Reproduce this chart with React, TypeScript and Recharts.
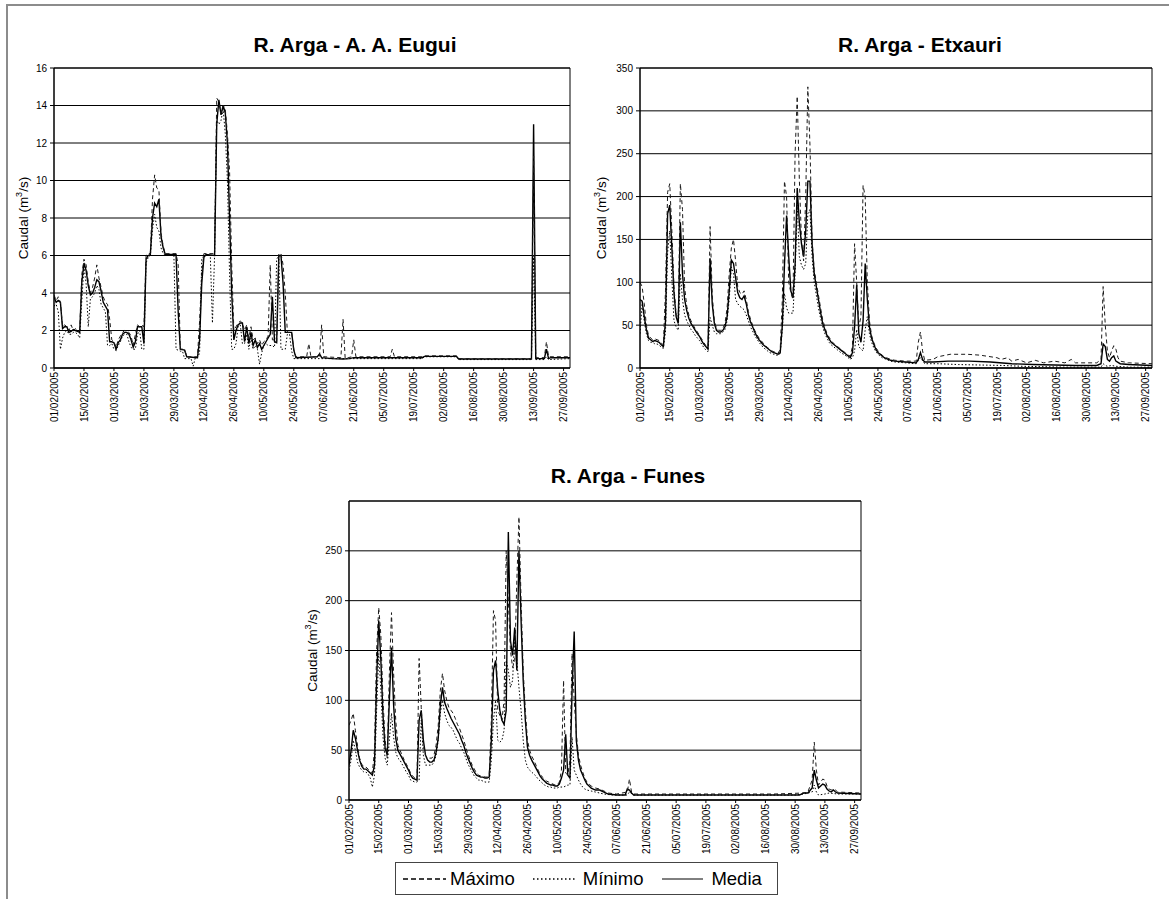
import React from 'react';
import { LineChart, Line, XAxis, YAxis, CartesianGrid, ReferenceArea } from 'recharts';

type Pt = [number, number];

// x positions: day index counted from 01/02/2005
const tickDays = [0, 14, 28, 42, 56, 70, 84, 98, 112, 126, 140, 154, 168, 182, 196, 210, 224, 238];
const tickLabels = ['01/02/2005', '15/02/2005', '01/03/2005', '15/03/2005', '29/03/2005', '12/04/2005', '26/04/2005', '10/05/2005', '24/05/2005', '07/06/2005', '21/06/2005', '05/07/2005', '19/07/2005', '02/08/2005', '16/08/2005', '30/08/2005', '13/09/2005', '27/09/2005'];
const lastDay = 241;

const seriesNames = ['Máximo', 'Mínimo', 'Media'];
const chartTitles = ['R. Arga - A. A. Eugui', 'R. Arga - Etxauri', 'R. Arga - Funes'];

// ---------- R. Arga - A. A. Eugui ----------
const euguiTicks = [0, 2, 4, 6, 8, 10, 12, 14, 16];
const euguiMax: Pt[] = [[0,3.9],[1,3.6],[2,3.8],[3,3.5],[4,2.2],[5,2.3],[6,2.2],[7,2.0],[8,2.3],[9,2.0],[10,2.1],[11,2.0],[12,2.0],[13,5.0],[14,5.8],[15,5.5],[16,4.6],[17,4.0],[18,4.3],[19,4.8],[20,5.5],[21,4.8],[22,4.3],[23,3.8],[24,3.5],[25,3.4],[26,2.6],[27,1.5],[28,1.4],[29,1.1],[30,1.5],[31,1.7],[32,1.9],[33,2.0],[34,1.95],[35,1.9],[36,1.7],[37,1.2],[38,1.8],[39,2.3],[40,2.2],[41,2.3],[42,2.2],[43,6.0],[44,6.1],[45,6.1],[46,9.0],[47,10.3],[48,9.6],[49,9.5],[50,7.2],[51,6.5],[52,6.1],[57,6.1],[58,5.5],[59,1.0],[61,1.0],[62,0.6],[67,0.6],[68,2.5],[69,5.0],[70,6.1],[75,6.1],[76,14.4],[77,14.2],[78,13.6],[79,14.0],[80,13.8],[81,12.5],[82,10.5],[83,5.5],[84,2.0],[85,2.2],[86,2.4],[87,2.5],[88,2.4],[89,2.0],[90,2.3],[91,1.6],[92,2.2],[93,1.5],[94,1.6],[95,1.3],[96,1.5],[97,1.2],[98,1.4],[99,1.5],[100,1.7],[101,5.5],[102,1.5],[103,1.5],[104,1.4],[105,6.1],[106,6.1],[107,5.5],[108,4.0],[109,1.9],[111,1.9],[112,1.0],[113,0.6],[118,0.6],[119,1.3],[120,0.6],[124,0.6],[125,2.3],[126,0.6],[134,0.55],[135,2.6],[136,0.5],[139,0.6],[140,1.5],[141,0.6],[157,0.6],[158,1.0],[159,0.6],[172,0.6],[173,0.65],[188,0.65],[189,0.5],[223,0.5],[224,11.3],[225,0.55],[229,0.55],[230,1.4],[231,0.6],[241,0.6]];
const euguiMin: Pt[] = [[0,3.3],[1,3.4],[2,3.0],[3,1.0],[4,1.6],[5,1.9],[6,2.0],[7,1.8],[8,1.8],[9,1.9],[10,1.9],[11,1.8],[12,1.6],[13,3.6],[14,5.4],[15,4.5],[16,2.2],[17,3.7],[18,3.8],[19,4.0],[20,4.4],[21,4.2],[22,3.4],[23,3.2],[24,3.0],[25,1.2],[26,1.2],[27,1.3],[28,1.0],[29,0.95],[30,1.2],[31,1.4],[32,1.7],[33,1.8],[34,1.8],[35,1.4],[36,1.1],[37,1.0],[38,1.0],[39,1.8],[40,2.0],[41,1.0],[42,1.0],[43,5.6],[44,5.9],[45,6.0],[46,7.4],[47,8.2],[48,7.5],[49,7.3],[50,6.4],[51,6.1],[52,6.0],[56,6.0],[57,1.0],[59,0.9],[60,0.9],[61,0.5],[64,0.5],[65,0.1],[66,0.55],[67,0.55],[68,0.8],[69,5.8],[70,6.0],[73,6.0],[74,2.4],[75,6.0],[76,13.2],[77,13.0],[78,13.2],[79,13.8],[80,12.5],[81,10.0],[82,5.0],[83,1.0],[84,1.0],[85,1.3],[86,2.2],[87,2.3],[88,1.3],[89,1.3],[90,1.8],[91,1.0],[92,1.6],[93,1.0],[94,1.2],[95,1.0],[96,0.2],[97,0.8],[98,1.2],[99,1.3],[100,1.2],[102,1.2],[103,1.1],[104,5.8],[105,6.0],[106,1.0],[108,1.0],[109,1.8],[110,1.8],[111,0.9],[112,0.5],[172,0.5],[173,0.6],[188,0.6],[189,0.45],[223,0.45],[224,6.0],[225,0.45],[229,0.45],[230,0.6],[231,0.45],[241,0.5]];
const euguiMedia: Pt[] = [[0,3.8],[1,3.5],[2,3.6],[3,3.5],[4,2.1],[5,2.2],[6,2.2],[7,1.9],[8,1.95],[9,2.05],[10,2.0],[11,1.95],[12,1.9],[13,4.6],[14,5.6],[15,5.2],[16,4.4],[17,3.9],[18,4.0],[19,4.3],[20,4.7],[21,4.6],[22,4.1],[23,3.5],[24,3.3],[25,3.1],[26,1.4],[27,1.4],[28,1.35],[29,1.0],[30,1.35],[31,1.5],[32,1.8],[33,1.9],[34,1.9],[35,1.8],[36,1.5],[37,1.1],[38,1.4],[39,2.2],[41,2.2],[42,1.3],[43,5.8],[44,6.0],[45,6.05],[46,8.0],[47,8.8],[48,8.6],[49,9.0],[50,7.0],[51,6.4],[52,6.05],[57,6.05],[58,3.0],[59,1.0],[61,0.95],[62,0.6],[67,0.55],[68,1.5],[69,4.5],[70,5.9],[71,6.05],[75,6.0],[76,13.0],[77,14.3],[78,13.5],[79,14.0],[80,13.6],[81,12.0],[82,8.0],[83,4.0],[84,1.5],[85,2.0],[86,2.3],[87,2.4],[88,2.4],[89,1.4],[90,2.2],[91,1.3],[92,1.9],[93,1.2],[94,1.5],[95,1.1],[96,1.3],[97,1.0],[98,1.2],[99,1.4],[100,1.6],[101,1.8],[102,3.8],[103,1.4],[104,1.35],[105,6.0],[106,6.0],[107,4.5],[108,1.9],[111,1.9],[112,0.95],[113,0.55],[123,0.6],[124,0.75],[125,0.55],[130,0.5],[135,0.48],[138,0.5],[140,0.55],[172,0.55],[173,0.62],[188,0.62],[189,0.48],[223,0.48],[224,13.0],[225,0.5],[229,0.5],[230,1.0],[231,0.5],[232,0.55],[241,0.55]];

// ---------- R. Arga - Etxauri ----------
const etxTicks = [0, 50, 100, 150, 200, 250, 300, 350];
const etxMax: Pt[] = [[0,100],[1,95],[2,75],[3,50],[4,38],[5,35],[6,33],[7,34],[8,33],[9,32],[10,29],[11,27],[12,90],[13,205],[14,215],[15,160],[16,95],[17,62],[18,60],[19,215],[20,185],[21,95],[22,72],[23,62],[24,55],[25,50],[26,46],[27,42],[28,38],[29,34],[30,30],[31,26],[32,24],[33,165],[34,85],[35,55],[36,46],[37,44],[38,44],[39,46],[40,52],[41,70],[42,110],[43,140],[44,150],[45,125],[46,95],[47,88],[48,86],[49,90],[50,80],[51,66],[52,57],[53,50],[54,44],[55,39],[56,35],[57,32],[58,29],[59,26],[60,24],[61,22],[62,20],[63,19],[64,18],[65,17],[66,22],[67,80],[68,218],[69,200],[70,100],[71,88],[72,80],[73,250],[74,317],[75,220],[76,150],[77,125],[78,200],[79,328],[80,260],[81,150],[82,115],[83,100],[84,85],[85,70],[86,56],[87,48],[88,40],[89,36],[90,32],[91,29],[92,27],[93,25],[94,23],[95,21],[96,19],[97,17],[98,15],[99,14],[100,25],[101,145],[102,100],[103,48],[104,60],[105,213],[106,200],[107,100],[108,55],[109,38],[110,30],[111,24],[112,20],[113,17],[114,15],[115,13],[116,12],[118,10],[120,9],[125,8],[130,8],[131,30],[132,42],[133,20],[134,9],[138,10],[140,13],[146,16],[154,16],[160,15],[168,12],[170,10],[173,12],[175,8],[178,10],[182,6],[186,9],[190,6],[195,8],[200,6],[203,10],[205,6],[215,6],[217,10],[218,95],[219,50],[220,20],[221,12],[222,20],[223,26],[224,22],[225,12],[226,8],[230,6],[241,5]];
const etxMin: Pt[] = [[0,40],[1,75],[2,55],[3,40],[4,32],[5,30],[6,30],[7,28],[8,28],[9,27],[10,24],[11,23],[12,42],[13,135],[14,160],[15,104],[16,55],[17,48],[18,44],[19,110],[20,80],[21,62],[22,55],[23,50],[24,45],[25,42],[26,38],[27,35],[28,32],[29,28],[30,24],[31,21],[32,19],[33,59],[34,50],[35,42],[36,40],[38,40],[39,42],[40,45],[41,55],[42,80],[43,118],[44,110],[45,80],[46,75],[47,72],[48,70],[49,68],[50,62],[51,55],[52,48],[53,43],[54,38],[55,34],[56,30],[57,27],[58,24],[59,22],[60,20],[61,18],[62,17],[63,16],[64,15],[65,15],[66,17],[67,45],[68,87],[69,70],[70,64],[72,64],[73,110],[74,190],[75,130],[76,120],[77,115],[78,122],[79,180],[80,185],[81,130],[82,100],[83,85],[84,70],[85,58],[86,48],[87,40],[88,35],[89,30],[90,27],[91,25],[92,23],[93,21],[94,19],[95,17],[96,16],[97,14],[98,12],[99,10],[100,12],[101,20],[102,45],[103,25],[104,22],[105,20],[106,45],[107,60],[108,40],[109,30],[110,24],[111,19],[112,16],[113,14],[114,12],[115,11],[116,10],[118,8],[120,7],[125,6],[130,5],[132,12],[134,5],[140,5],[150,4],[160,3.5],[170,3],[180,2],[190,1.5],[200,1],[217,1],[218,5],[219,3],[220,2],[222,3],[224,2],[230,1],[241,1]];
const etxMedia: Pt[] = [[0,80],[1,78],[2,60],[3,45],[4,35],[5,33],[6,31],[7,32],[8,31],[9,30],[10,27],[11,25],[12,55],[13,180],[14,190],[15,140],[16,87],[17,60],[18,52],[19,170],[20,110],[21,80],[22,67],[23,58],[24,52],[25,48],[26,44],[27,40],[28,37],[29,32],[30,28],[31,25],[32,22],[33,128],[34,75],[35,52],[36,44],[37,42],[38,42],[39,44],[40,48],[41,60],[42,90],[43,126],[44,122],[45,105],[46,88],[47,82],[48,80],[49,84],[50,75],[51,62],[52,54],[53,48],[54,42],[55,37],[56,33],[57,30],[58,27],[59,25],[60,23],[61,21],[62,19],[63,18],[64,17],[65,16],[66,18],[67,50],[68,120],[69,178],[70,130],[71,90],[72,82],[73,120],[74,210],[75,170],[76,145],[77,130],[78,160],[79,218],[80,218],[81,145],[82,110],[83,95],[84,80],[85,65],[86,52],[87,45],[88,38],[89,34],[90,30],[91,28],[92,26],[93,24],[94,22],[95,20],[96,18],[97,16],[98,14],[99,12],[100,18],[101,48],[102,97],[103,40],[104,30],[105,55],[106,122],[107,80],[108,48],[109,35],[110,28],[111,22],[112,18],[113,16],[114,14],[115,12],[116,11],[118,9],[120,8],[125,7],[130,6],[131,10],[132,18],[133,10],[134,7],[138,7],[145,8],[155,8],[165,7],[175,5],[185,4],[195,3.5],[205,3],[215,3],[217,5],[218,28],[219,25],[220,10],[221,8],[222,12],[223,14],[224,8],[226,5],[230,4],[241,3]];

// ---------- R. Arga - Funes ----------
const funesTicks = [0, 50, 100, 150, 200, 250];
const funesMax: Pt[] = [[0,75],[1,80],[2,87],[3,70],[4,55],[5,42],[6,36],[7,33],[8,33],[9,31],[10,29],[11,27],[12,50],[13,150],[14,193],[15,165],[16,100],[17,60],[18,42],[19,127],[20,188],[21,127],[22,80],[23,55],[24,50],[25,45],[26,40],[27,36],[28,32],[29,27],[30,24],[31,22],[32,20],[33,142],[34,93],[35,55],[36,45],[37,42],[39,42],[40,45],[41,55],[42,75],[43,110],[44,127],[45,110],[46,100],[47,93],[48,90],[49,87],[50,82],[51,76],[52,72],[53,66],[54,60],[55,53],[56,46],[57,40],[58,35],[59,31],[60,27],[61,25],[62,24],[63,24],[64,23],[65,23],[66,25],[67,80],[68,190],[69,180],[70,90],[71,85],[72,80],[73,100],[74,250],[75,200],[76,150],[77,133],[78,140],[79,220],[80,284],[81,200],[82,130],[83,90],[84,60],[85,50],[86,44],[87,40],[88,35],[89,30],[90,26],[91,23],[92,21],[93,19],[94,18],[95,17],[96,16],[97,15],[98,15],[99,18],[100,30],[101,120],[102,27],[103,25],[104,40],[105,147],[106,100],[107,67],[108,45],[109,35],[110,28],[111,22],[112,18],[113,16],[114,14],[115,13],[116,12],[118,11],[120,9],[122,7],[126,6],[131,8],[132,21],[133,8],[134,6],[200,6],[214,7],[216,8],[218,20],[219,58],[220,30],[221,15],[222,18],[223,21],[224,20],[225,14],[226,11],[227,10],[228,11],[229,10],[230,8],[241,7]];
const funesMin: Pt[] = [[0,30],[1,40],[2,60],[3,50],[4,38],[5,33],[6,30],[7,28],[8,28],[9,26],[10,22],[11,13],[12,25],[13,90],[14,147],[15,110],[16,63],[17,42],[18,35],[19,60],[20,87],[21,63],[22,48],[23,42],[24,40],[25,36],[26,32],[27,28],[28,25],[29,20],[30,19],[31,18],[32,18],[33,20],[34,80],[35,45],[36,35],[39,35],[40,38],[41,45],[42,60],[43,87],[44,100],[45,87],[46,80],[47,75],[48,73],[49,70],[50,65],[51,60],[52,57],[53,52],[54,48],[55,42],[56,36],[57,32],[58,28],[59,24],[60,22],[61,20],[62,20],[63,19],[64,18],[66,18],[67,40],[68,80],[69,100],[70,60],[71,58],[72,60],[73,70],[74,140],[75,130],[76,113],[77,120],[78,163],[79,140],[80,113],[81,90],[82,60],[83,40],[84,33],[85,30],[86,28],[87,26],[88,24],[89,21],[90,19],[91,17],[92,15],[93,14],[94,13],[95,13],[96,12],[98,12],[99,13],[101,13],[102,14],[103,15],[104,15],[105,63],[106,30],[107,25],[108,20],[109,16],[110,13],[111,11],[112,10],[114,9],[116,8],[120,6],[124,5],[131,5],[132,8],[134,5],[210,5],[214,6],[218,8],[219,15],[220,8],[221,5],[224,6],[226,7],[230,6],[241,6]];
const funesMedia: Pt[] = [[0,35],[1,50],[2,70],[3,62],[4,50],[5,40],[6,34],[7,31],[8,31],[9,29],[10,27],[11,25],[12,35],[13,120],[14,180],[15,140],[16,85],[17,52],[18,45],[19,100],[20,153],[21,95],[22,62],[23,50],[24,46],[25,42],[26,38],[27,34],[28,30],[29,25],[30,22],[31,21],[32,20],[33,80],[34,90],[35,60],[36,45],[37,40],[38,38],[39,38],[40,40],[41,48],[42,62],[43,95],[44,113],[45,98],[46,92],[47,87],[48,82],[49,78],[50,74],[51,70],[52,66],[53,60],[54,55],[55,48],[56,42],[57,37],[58,32],[59,28],[60,25],[61,24],[62,23],[63,23],[64,22],[65,22],[66,23],[67,60],[68,130],[69,140],[70,110],[71,90],[72,80],[73,76],[74,90],[75,269],[76,160],[77,145],[78,173],[79,130],[80,250],[81,180],[82,120],[83,80],[84,53],[85,45],[86,40],[87,36],[88,32],[89,28],[90,24],[91,21],[92,19],[93,17],[94,16],[95,15],[96,15],[97,14],[98,14],[99,16],[100,22],[101,30],[102,66],[103,25],[104,22],[105,110],[106,169],[107,60],[108,40],[109,30],[110,25],[111,20],[112,16],[113,14],[114,12],[115,11],[116,10],[118,10],[120,8],[122,6],[126,5],[130,5],[131,11],[132,10],[133,7],[134,5],[212,5],[214,7],[216,7],[218,12],[219,30],[220,20],[221,12],[222,14],[223,16],[224,15],[225,11],[226,9],[227,8],[228,10],[229,8],[230,7],[241,6]];

const FONT = '"Liberation Sans", Arial, Helvetica, sans-serif';

const toRows = (pts: Pt[]) => pts.map(([d, v]) => ({ d, v }));

const XTick = (props: any) => {
  const { x, y, payload } = props;
  const idx = tickDays.indexOf(payload.value);
  return (
    <text
      transform={`translate(${x + 3.6},${y}) rotate(-90)`}
      textAnchor="end"
      fontSize={10}
      fontFamily={FONT}
      fill="#000"
    >
      {tickLabels[idx]}
    </text>
  );
};

const makeYLabel = (labelX: number) => (props: any) => {
  const vb = props.viewBox || { x: 0, y: 0, width: 0, height: 0 };
  const cy = vb.y + vb.height / 2;
  const cx = vb.x + labelX;
  return (
    <text transform={`translate(${cx},${cy}) rotate(-90)`} textAnchor="middle" fontSize={13.5} fontFamily={FONT} fill="#000">
      <tspan>Caudal (m</tspan>
      <tspan dy={-6} fontSize={9}>3</tspan>
      <tspan dy={6}>/s)</tspan>
    </text>
  );
};

type PanelProps = {
  left: number; top: number; width: number; height: number;
  plotLeft: number; plotTop: number; plotRight: number; plotBottom: number;
  yMax: number; yTicks: number[]; labelX: number;
  title: string; titleCx: number; titleCy: number;
  maxPts: Pt[]; minPts: Pt[]; mediaPts: Pt[];
};

function Panel(p: PanelProps) {
  const yAxisWidth = p.plotLeft - p.left;
  const xAxisHeight = p.top + p.height - p.plotBottom;
  return (
    <>
      <div
        style={{
          position: 'absolute', left: p.titleCx - 200, top: p.titleCy - 13, width: 400,
          textAlign: 'center', fontFamily: FONT, fontWeight: 'bold', fontSize: 21, lineHeight: '26px', color: '#000',
        }}
      >
        {p.title}
      </div>
      <div style={{ position: 'absolute', left: p.left, top: p.top }}>
        <LineChart
          width={p.width}
          height={p.height}
          margin={{ top: p.plotTop - p.top, right: p.left + p.width - p.plotRight, bottom: 0, left: 0 }}
        >
          <CartesianGrid vertical={false} stroke="#000" strokeWidth={1} />
          <XAxis
            dataKey="d"
            type="number"
            domain={[0, lastDay]}
            ticks={tickDays}
            interval={0}
            height={xAxisHeight}
            tick={<XTick />}
            tickSize={3}
            tickMargin={1}
            axisLine={{ stroke: '#000' }}
            tickLine={{ stroke: '#000' }}
            allowDataOverflow
          />
          <YAxis
            type="number"
            domain={[0, p.yMax]}
            ticks={p.yTicks}
            interval={0}
            width={yAxisWidth}
            tickSize={4}
            tickMargin={3}
            tick={{ fontSize: 10, fill: '#000', fontFamily: FONT }}
            axisLine={{ stroke: '#000' }}
            tickLine={{ stroke: '#000' }}
            label={{ content: makeYLabel(p.labelX) } as any}
            allowDataOverflow
          />
          <ReferenceArea x1={0} x2={lastDay} y1={0} y2={p.yMax} fill="none" stroke="#000" strokeWidth={1} ifOverflow="visible" />
          <Line data={toRows(p.mediaPts)} dataKey="v" name={seriesNames[2]} type="linear" stroke="#000" strokeWidth={1.4} dot={false} isAnimationActive={false} />
          <Line data={toRows(p.maxPts)} dataKey="v" name={seriesNames[0]} type="linear" stroke="#1a1a1a" strokeWidth={1} strokeDasharray="4 3" dot={false} isAnimationActive={false} />
          <Line data={toRows(p.minPts)} dataKey="v" name={seriesNames[1]} type="linear" stroke="#000" strokeWidth={1} strokeDasharray="1.5 2" dot={false} isAnimationActive={false} />
        </LineChart>
      </div>
    </>
  );
}

function LegendBox() {
  const items = [
    { name: seriesNames[0], dash: '5 3', w: 1.6, sw: 43, gap: 4, after: 18 },
    { name: seriesNames[1], dash: '1.5 2.5', w: 1.6, sw: 44, gap: 6, after: 19 },
    { name: seriesNames[2], dash: undefined as string | undefined, w: 1, sw: 41, gap: 8, after: 0 },
  ];
  return (
    <div
      style={{
        position: 'absolute', left: 395, top: 862, width: 383, height: 33, boxSizing: 'border-box',
        border: '1px solid #444', background: '#fff', display: 'flex', alignItems: 'center',
        paddingLeft: 7, fontFamily: FONT, fontSize: 18.5, color: '#000',
      }}
    >
      {items.map((it) => (
        <div key={it.name} style={{ display: 'flex', alignItems: 'center', marginRight: it.after }}>
          <svg width={it.sw} height={10} style={{ marginRight: it.gap }}>
            <line x1={0} y1={5} x2={it.sw} y2={5} stroke="#000" strokeWidth={it.w} strokeDasharray={it.dash} />
          </svg>
          <span>{it.name}</span>
        </div>
      ))}
    </div>
  );
}

export default function App() {
  return (
    <div style={{ position: 'relative', width: 1169, height: 899, overflow: 'hidden', background: '#fff' }}>
      <style>{'body{margin:0;}'}</style>
      <div style={{ position: 'absolute', left: 6, top: 4, width: 1300, height: 1100, border: '2px solid #8c8c8c' }} />
      <Panel
        left={0} top={0} width={600} height={450}
        plotLeft={54} plotTop={68} plotRight={570} plotBottom={368}
        yMax={16} yTicks={euguiTicks} labelX={28}
        title={chartTitles[0]} titleCx={355} titleCy={45}
        maxPts={euguiMax} minPts={euguiMin} mediaPts={euguiMedia}
      />
      <Panel
        left={580} top={0} width={589} height={450}
        plotLeft={640} plotTop={68} plotRight={1152} plotBottom={368}
        yMax={350} yTicks={etxTicks} labelX={26}
        title={chartTitles[1]} titleCx={920} titleCy={45}
        maxPts={etxMax} minPts={etxMin} mediaPts={etxMedia}
      />
      <Panel
        left={270} top={420} width={620} height={440}
        plotLeft={349} plotTop={501} plotRight={861} plotBottom={800}
        yMax={300} yTicks={funesTicks} labelX={47}
        title={chartTitles[2]} titleCx={628} titleCy={476}
        maxPts={funesMax} minPts={funesMin} mediaPts={funesMedia}
      />
      <LegendBox />
    </div>
  );
}
